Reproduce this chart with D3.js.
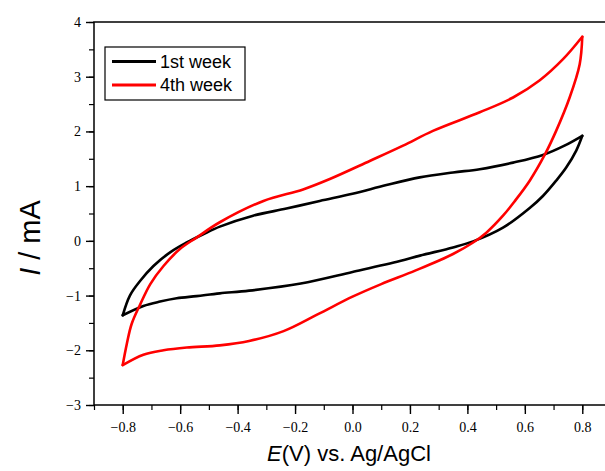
<!DOCTYPE html>
<html>
<head>
<meta charset="utf-8">
<script src="https://cdn.jsdelivr.net/npm/d3@7"></script>
<style>
  body { margin: 0; background: #fff; }
  .tick text { font-family: "Liberation Serif", "Times New Roman", serif; font-size: 14px; fill: #000; }
  .title { font-family: "Liberation Sans", Arial, sans-serif; fill: #000; }
</style>
</head>
<body>
<svg id="chart"></svg>
<script>
// Cyclic voltammetry data
// anodic sweep (-0.8 -> 0.8) and cathodic sweep (0.8 -> -0.8)
const week1ForwardE = [-0.8, -0.775, -0.739, -0.693, -0.635, -0.577, -0.52, -0.462, -0.346, -0.23, -0.114, 0.0, 0.118, 0.234, 0.35, 0.443, 0.559, 0.663, 0.738, 0.8];
const week1ForwardI = [-1.36, -1.0, -0.73, -0.46, -0.21, -0.03, 0.12, 0.26, 0.46, 0.59, 0.73, 0.86, 1.02, 1.16, 1.25, 1.31, 1.43, 1.57, 1.74, 1.92];
const week1BackE = [0.8, 0.779, 0.744, 0.709, 0.663, 0.617, 0.524, 0.42, 0.35, 0.235, 0.165, 0.0, -0.18, -0.36, -0.462, -0.543, -0.612, -0.67, -0.728, -0.8];
const week1BackI = [1.92, 1.65, 1.34, 1.10, 0.82, 0.60, 0.24, -0.01, -0.12, -0.27, -0.37, -0.57, -0.78, -0.91, -0.96, -1.01, -1.05, -1.11, -1.19, -1.36];

const week4ForwardE = [-0.8, -0.786, -0.769, -0.739, -0.704, -0.658, -0.601, -0.543, -0.462, -0.31, -0.172, -0.079, 0.06, 0.176, 0.28, 0.443, 0.559, 0.651, 0.733, 0.8];
const week4ForwardI = [-2.27, -1.89, -1.52, -1.16, -0.79, -0.46, -0.15, 0.06, 0.34, 0.73, 0.94, 1.13, 1.46, 1.74, 2.01, 2.35, 2.62, 2.93, 3.32, 3.73];
const week4BackE = [0.8, 0.791, 0.756, 0.709, 0.669, 0.617, 0.564, 0.524, 0.466, 0.42, 0.35, 0.22, 0.1, 0.0, -0.12, -0.24, -0.36, -0.462, -0.577, -0.658, -0.728, -0.8];
const week4BackI = [3.73, 3.23, 2.62, 2.01, 1.57, 1.10, 0.72, 0.46, 0.15, -0.03, -0.24, -0.54, -0.79, -1.02, -1.34, -1.65, -1.83, -1.91, -1.95, -2.0, -2.08, -2.27];

const seriesNames = ["1st week", "4th week"];
const seriesColors = ["#000000", "#ff0000"];

const xTicks = [-0.8, -0.6, -0.4, -0.2, 0.0, 0.2, 0.4, 0.6, 0.8];
const yTicks = [-3, -2, -1, 0, 1, 2, 3, 4];

const W = 605, H = 471;
const margin = { top: 22, right: -6, bottom: 66, left: 94 };

const svg = d3.select("#chart").attr("width", W).attr("height", H);

const x = d3.scaleLinear().domain([-0.9, 0.9]).range([margin.left, W - margin.right]);
const y = d3.scaleLinear().domain([-3, 4]).range([H - margin.bottom, margin.top]);

// minor ticks
svg.append("g")
  .attr("transform", `translate(0,${y(-3)})`)
  .call(d3.axisBottom(x).tickValues(d3.range(-0.9, 0.91, 0.1)).tickSize(5).tickFormat(""))
  .call(g => g.select(".domain").remove())
  .selectAll("line").attr("stroke-width", 1.2);
svg.append("g")
  .attr("transform", `translate(${x(-0.9)},0)`)
  .call(d3.axisLeft(y).tickValues(d3.range(-3, 4.01, 0.5)).tickSize(5).tickFormat(""))
  .call(g => g.select(".domain").remove())
  .selectAll("line").attr("stroke-width", 1.2);

// major ticks
svg.append("g")
  .attr("transform", `translate(0,${y(-3)})`)
  .call(d3.axisBottom(x).tickValues(xTicks).tickSize(9).tickPadding(8).tickFormat(d3.format(".1f")))
  .call(g => g.select(".domain").remove())
  .selectAll("line").attr("stroke-width", 1.4);
svg.append("g")
  .attr("transform", `translate(${x(-0.9)},0)`)
  .call(d3.axisLeft(y).tickValues(yTicks).tickSize(8).tickPadding(5).tickFormat(d3.format("d")))
  .call(g => g.select(".domain").remove())
  .selectAll("line").attr("stroke-width", 1.4);

// frame
svg.append("rect")
  .attr("x", x(-0.9)).attr("y", y(4))
  .attr("width", x(0.9) - x(-0.9)).attr("height", y(-3) - y(4))
  .attr("fill", "none").attr("stroke", "#000").attr("stroke-width", 1.5);

// curves, one path per sweep
const line = d3.line().x(d => x(d[0])).y(d => y(d[1])).curve(d3.curveCatmullRom.alpha(0.5));
const branches = [
  [week1ForwardE, week1ForwardI, 0],
  [week1BackE, week1BackI, 0],
  [week4ForwardE, week4ForwardI, 1],
  [week4BackE, week4BackI, 1]
];
branches.forEach(([es, is, k]) => {
  const pts = es.map((e, j) => [e, is[j]]);
  svg.append("path")
    .attr("d", line(pts))
    .attr("fill", "none")
    .attr("stroke", seriesColors[k])
    .attr("stroke-width", 2.6)
    .attr("stroke-linecap", "round")
    .attr("stroke-linejoin", "round");
});

// legend
const legend = svg.append("g");
legend.append("rect")
  .attr("x", 105).attr("y", 47).attr("width", 140).attr("height", 53)
  .attr("fill", "#fff").attr("stroke", "#000").attr("stroke-width", 1.2);
seriesNames.forEach((name, k) => {
  const ly = 61.5 + k * 23.5;
  legend.append("line")
    .attr("x1", 112).attr("x2", 156).attr("y1", ly).attr("y2", ly)
    .attr("stroke", seriesColors[k]).attr("stroke-width", 2.8);
  legend.append("text")
    .attr("class", "title")
    .attr("x", 160).attr("y", ly + 6)
    .attr("font-size", 18)
    .text(name);
});

// axis titles
const xt = svg.append("text").attr("class", "title")
  .attr("x", 349).attr("y", 461)
  .attr("text-anchor", "middle").attr("font-size", 22);
xt.append("tspan").attr("font-style", "italic").text("E");
xt.append("tspan").text("(V) vs. Ag/AgCl");

const yt = svg.append("text").attr("class", "title")
  .attr("transform", "translate(40,238) rotate(-90)")
  .attr("text-anchor", "middle").attr("font-size", 29);
yt.append("tspan").attr("font-style", "italic").text("I");
yt.append("tspan").text(" / mA");
</script>
</body>
</html>
